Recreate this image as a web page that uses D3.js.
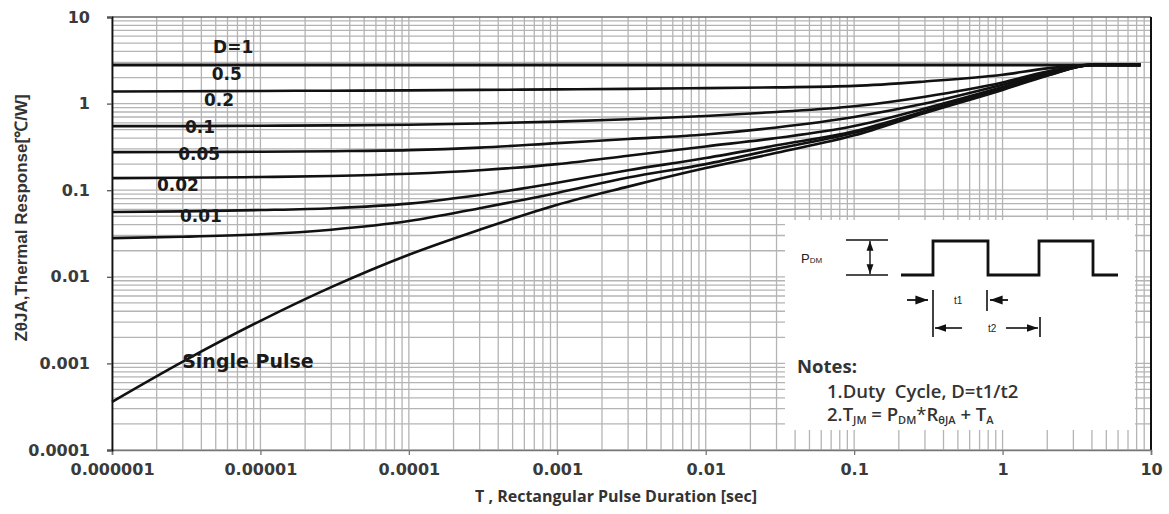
<!DOCTYPE html>
<html><head><meta charset="utf-8">
<script src="https://cdn.jsdelivr.net/npm/d3@7"></script>
<style>body{margin:0;background:#fff}svg{display:block}</style>
</head><body><svg id="c" width="1169" height="514"></svg>
<script>
// ---- data ----
const pulseDuration = [1e-6,3e-6,1e-5,3e-5,1e-4,3e-4,1e-3,3e-3,1e-2,3e-2,0.1,0.3,1,2,4,8.5];
const seriesNames = ["D=1","0.5","0.2","0.1","0.05","0.02","0.01","Single Pulse"];
const zD100 = [2.8,2.8,2.8,2.8,2.8,2.8,2.8,2.8,2.8,2.8,2.8,2.8,2.8,2.8,2.8,2.8];
const zD050 = [1.38,1.39,1.40,1.41,1.42,1.44,1.46,1.48,1.51,1.54,1.60,1.80,2.15,2.55,2.8,2.8];
const zD020 = [0.55,0.55,0.555,0.56,0.57,0.59,0.62,0.66,0.72,0.80,0.93,1.2,1.75,2.35,2.8,2.8];
const zD010 = [0.275,0.276,0.278,0.282,0.29,0.31,0.35,0.39,0.44,0.53,0.70,1.0,1.65,2.25,2.8,2.8];
const zD005 = [0.138,0.139,0.142,0.146,0.155,0.17,0.20,0.25,0.32,0.40,0.55,0.88,1.55,2.2,2.8,2.8];
const zD002 = [0.056,0.057,0.059,0.062,0.07,0.088,0.122,0.17,0.235,0.33,0.48,0.82,1.5,2.15,2.8,2.8];
const zD001 = [0.028,0.029,0.031,0.035,0.044,0.062,0.093,0.14,0.2,0.3,0.46,0.8,1.47,2.12,2.8,2.8];
const zSingle = [0.00036,0.00105,0.0031,0.0076,0.018,0.035,0.068,0.11,0.18,0.27,0.43,0.78,1.44,2.1,2.8,2.8];
const seriesValues = [zD100,zD050,zD020,zD010,zD005,zD002,zD001,zSingle];
// label anchors (data units: pulse duration, Z)
const labelT = [4.8e-6,4.7e-6,4.17e-6,3.1e-6,2.79e-6,2.01e-6,2.87e-6,2.97e-6];
const labelZ = [3.84,1.87,0.938,0.457,0.223,0.098,0.043,0.000885];

const xTickValues = [1e-6,1e-5,1e-4,1e-3,1e-2,1e-1,1,10];
const xTickLabels = ["0.000001","0.00001","0.0001","0.001","0.01","0.1","1","10"];
const yTickValues = [1e-4,1e-3,1e-2,1e-1,1,10];
const yTickLabels = ["0.0001","0.001","0.01","0.1","1","10"];

// ---- layout ----
const L=112, R=1151, T=17, B=450;
const svg = d3.select("#c");
svg.append("rect").attr("width",1169).attr("height",514).attr("fill","#fff");
const x = d3.scaleLog().domain([1e-6,10]).range([L,R]);
const y = d3.scaleLog().domain([1e-4,10]).range([B,T]);

// grid
const xGrid=[], yGrid=[];
for(let d=-6; d<1; d++) for(let k=1;k<10;k++) xGrid.push(k*Math.pow(10,d));
for(let d=-4; d<1; d++) for(let k=1;k<10;k++) yGrid.push(k*Math.pow(10,d));
const g = svg.append("g");
g.selectAll("line.vx").data(xGrid).join("line")
  .attr("x1",d=>x(d)).attr("x2",d=>x(d)).attr("y1",T).attr("y2",B)
  .attr("stroke","#b4b4b4").attr("stroke-width",1.3);
g.selectAll("line.hy").data(yGrid).join("line")
  .attr("y1",d=>y(d)).attr("y2",d=>y(d)).attr("x1",L).attr("x2",R)
  .attr("stroke","#b4b4b4").attr("stroke-width",1.3);

// inset background
svg.append("rect").attr("x",785).attr("y",220).attr("width",350).attr("height",210).attr("fill","#fff");

// borders
svg.append("line").attr("x1",L).attr("x2",R).attr("y1",T).attr("y2",T).attr("stroke","#666").attr("stroke-width",1.6);
svg.append("line").attr("x1",R).attr("x2",R).attr("y1",T).attr("y2",B).attr("stroke","#111").attr("stroke-width",2);

// axes
const tickFont = "DejaVu Sans, sans-serif";
const xAxis = svg.append("g").attr("transform",`translate(0,${B})`)
  .call(d3.axisBottom(x).tickValues(xTickValues).tickFormat((d,i)=>xTickLabels[i]).tickSize(5).tickPadding(9));
xAxis.select(".domain").attr("stroke","#777").attr("stroke-width",1.6);
xAxis.selectAll(".tick line").attr("stroke","#777").attr("stroke-width",1.3);
xAxis.selectAll("text").attr("font-family",tickFont).attr("font-weight","bold").attr("font-size",16).attr("fill","#3a3a3a");

const yAxis = svg.append("g").attr("transform",`translate(${L},0)`)
  .call(d3.axisLeft(y).tickValues(yTickValues).tickFormat((d,i)=>yTickLabels[i]).tickSize(5).tickPadding(17));
yAxis.select(".domain").attr("stroke","#111").attr("stroke-width",1.8);
yAxis.selectAll(".tick line").attr("stroke","#555").attr("stroke-width",1.3);
yAxis.selectAll("text").attr("font-family",tickFont).attr("font-weight","bold").attr("font-size",16).attr("fill","#3a3a3a");

// curves
const line = d3.line().x(d=>x(d[0])).y(d=>y(d[1])).curve(d3.curveMonotoneX);
svg.append("g").selectAll("path").data(seriesValues).join("path")
  .attr("d",vals=>line(vals.map((v,i)=>[pulseDuration[i],v])))
  .attr("fill","none").attr("stroke","#111")
  .attr("stroke-width",(d,i)=>i===0?3:2.6).attr("stroke-linejoin","round");

// curve labels
svg.append("g").selectAll("text").data(seriesNames).join("text")
  .attr("x",(d,i)=>x(labelT[i])).attr("y",(d,i)=>y(labelZ[i]))
  .attr("font-family",tickFont).attr("font-weight","bold")
  .attr("font-size",(d,i)=>i===7?19:17).attr("fill","#1a1a1a").text(d=>d);

// axis titles
svg.append("text").attr("x",616).attr("y",502).attr("text-anchor","middle")
  .attr("font-family","Open Sans, sans-serif").attr("font-weight","bold").attr("font-size",16)
  .attr("fill","#333").text("T , Rectangular Pulse Duration [sec]");
svg.append("text").attr("transform","translate(27,218) rotate(-90)").attr("text-anchor","middle")
  .attr("font-family","Liberation Sans, Arial, sans-serif").attr("font-weight","bold").attr("font-size",17)
  .attr("fill","#333").text("ZθJA,Thermal Response[℃/W]");

// inset schematic
const defs = svg.append("defs");
defs.append("marker").attr("id","ah").attr("viewBox","0 0 10 10").attr("refX",10).attr("refY",5)
  .attr("markerWidth",7).attr("markerHeight",7).attr("orient","auto-start-reverse")
  .append("path").attr("d","M0,1.5L10,5L0,8.5Z").attr("fill","#111");
const ins = svg.append("g").attr("stroke","#111").attr("fill","none");
ins.append("line").attr("x1",846).attr("x2",888).attr("y1",240).attr("y2",240).attr("stroke-width",1.5);
ins.append("line").attr("x1",846).attr("x2",888).attr("y1",275).attr("y2",275).attr("stroke-width",1.5);
ins.append("line").attr("x1",870).attr("x2",870).attr("y1",241).attr("y2",274).attr("stroke-width",1.4)
  .attr("marker-start","url(#ah)").attr("marker-end","url(#ah)");
ins.append("path").attr("d","M901,275H933V241H988V275H1039V241H1093V275H1118").attr("stroke-width",2.8);
ins.append("line").attr("x1",907).attr("x2",928).attr("y1",300).attr("y2",300).attr("stroke-width",1.8).attr("marker-end","url(#ah)");
ins.append("line").attr("x1",1008).attr("x2",990).attr("y1",300).attr("y2",300).attr("stroke-width",1.8).attr("marker-end","url(#ah)");
ins.append("line").attr("x1",933).attr("x2",933).attr("y1",290).attr("y2",337).attr("stroke-width",1.6);
ins.append("line").attr("x1",987).attr("x2",987).attr("y1",290).attr("y2",311).attr("stroke-width",1.6);
ins.append("line").attr("x1",962).attr("x2",935).attr("y1",328).attr("y2",328).attr("stroke-width",1.6).attr("marker-end","url(#ah)");
ins.append("line").attr("x1",1006).attr("x2",1038).attr("y1",328).attr("y2",328).attr("stroke-width",1.6).attr("marker-end","url(#ah)");
ins.append("line").attr("x1",1040).attr("x2",1040).attr("y1",317).attr("y2",337).attr("stroke-width",1.6);

const tx = svg.append("g").attr("font-family","Liberation Sans, Arial, sans-serif").attr("fill","#222");
const pdm = tx.append("text").attr("x",801).attr("y",263).attr("font-size",13);
pdm.append("tspan").text("P");
pdm.append("tspan").attr("font-size",8).text("DM");
tx.append("text").attr("x",954).attr("y",304).attr("font-size",10).attr("fill","#222").text("t1");
tx.append("text").attr("x",988).attr("y",332).attr("font-size",10).attr("fill","#222").text("t2");

const nt = svg.append("g").attr("font-family","Open Sans, sans-serif").attr("font-weight","600").attr("fill","#333");
nt.append("text").attr("x",797).attr("y",373).attr("font-size",18.5).attr("font-weight","bold").text("Notes:");
nt.append("text").attr("x",827).attr("y",398).attr("font-size",18.5).text("1.Duty\u00a0 Cycle,\u00a0D=t1/t2");
const n2 = nt.append("text").attr("x",827).attr("y",421).attr("font-size",18.5);
n2.append("tspan").text("2.T");
n2.append("tspan").attr("font-size",11).attr("dy",3).text("JM");
n2.append("tspan").attr("dy",-3).text(" = P");
n2.append("tspan").attr("font-size",11).attr("dy",3).text("DM");
n2.append("tspan").attr("dy",-3).attr("font-weight","normal").text("*");
n2.append("tspan").text("R");
n2.append("tspan").attr("font-size",11).attr("dy",3).text("θJA");
n2.append("tspan").attr("dy",-3).text(" + T");
n2.append("tspan").attr("font-size",11).attr("dy",3).text("A");
</script></body></html>
